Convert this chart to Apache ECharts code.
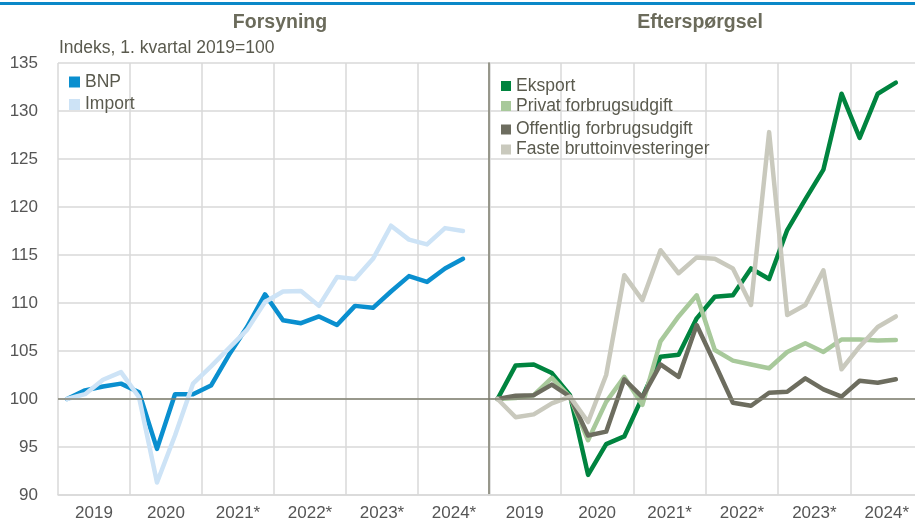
<!DOCTYPE html>
<html><head><meta charset="utf-8">
<script src="https://cdn.jsdelivr.net/npm/echarts@6/dist/echarts.min.js"></script>
<style>html,body{margin:0;padding:0;background:#fff}#c{width:915px;height:522px}</style>
</head><body><div id="c"></div>
<script>
const years = ['2019', '2020', '2021*', '2022*', '2023*', '2024*'];
const leftTitle = 'Forsyning';
const rightTitle = 'Efterspørgsel';
const unitLabel = 'Indeks, 1. kvartal 2019=100';

// quarterly, 2019 Q1 .. 2024 Q3
const bnp = [100, 100.9, 101.3, 101.6, 100.7, 94.8, 100.5, 100.5, 101.4, 104.6, 107.5, 110.9, 108.2, 107.9, 108.6, 107.7, 109.7, 109.5, 111.2, 112.8, 112.2, 113.6, 114.6];
const importData = [100, 100.5, 102.0, 102.8, 100.2, 91.3, 96.2, 101.6, 103.4, 105.3, 107.2, 110.1, 111.2, 111.25, 109.7, 112.7, 112.5, 114.6, 118.05, 116.6, 116.1, 117.8, 117.5];
const eksport = [100, 103.5, 103.6, 102.7, 100.4, 92.1, 95.3, 96.1, 100.2, 104.4, 104.6, 108.4, 110.65, 110.8, 113.6, 112.5, 117.6, 120.8, 123.9, 131.8, 127.2, 131.8, 132.95];
const privat = [100, 100.1, 100.4, 102.2, 100.2, 95.7, 99.7, 102.3, 99.4, 106.0, 108.6, 110.8, 105.1, 104.0, 103.6, 103.2, 104.9, 105.8, 104.9, 106.2, 106.2, 106.1, 106.15];
const offentlig = [100, 100.35, 100.4, 101.5, 100.25, 96.2, 96.6, 102.05, 100.2, 103.6, 102.3, 107.7, 103.7, 99.6, 99.3, 100.65, 100.75, 102.15, 101.0, 100.25, 101.9, 101.7, 102.05];
const faste = [100, 98.1, 98.4, 99.55, 100.25, 97.6, 102.5, 112.9, 110.3, 115.5, 113.1, 114.75, 114.6, 113.6, 109.8, 127.8, 108.75, 109.8, 113.4, 103.1, 105.45, 107.5, 108.6];

const FONT = '"Liberation Sans", Arial, sans-serif';
const GRID_C = '#d9d9d9';
const toXY = arr => arr.map((v, i) => [i + 0.5, v]);

function xAxes(gridIndex) {
  return [
    {type: 'value', gridIndex, min: 0, max: 24, interval: 4,
     axisLabel: {show: false}, axisTick: {show: false},
     axisLine: {show: true, lineStyle: {color: GRID_C, width: 1.5}},
     splitLine: {show: true, lineStyle: {color: GRID_C, width: 1.5}}},
    {type: 'value', gridIndex, min: 0, max: 24, interval: 2, position: 'bottom',
     axisLabel: {show: true, margin: 10, fontSize: 17, color: '#555555', fontFamily: FONT,
                 showMinLabel: true, showMaxLabel: true,
                 formatter: v => (v % 4 === 2) ? years[(v - 2) / 4] : ''},
     axisTick: {show: false}, axisLine: {show: false}, splitLine: {show: false}}
  ];
}

const refLine = {
  silent: true, symbol: 'none', label: {show: false},
  lineStyle: {color: '#7f7f6f', width: 1.5, type: 'solid'},
  data: [{yAxis: 100}]
};

function lineSeries(name, data, color, xi, yi, extra) {
  return Object.assign({
    name, type: 'line', xAxisIndex: xi, yAxisIndex: yi, data: toXY(data),
    showSymbol: false, symbol: 'none', animation: false,
    lineStyle: {color, width: 4.5, join: 'round', cap: 'round'},
    itemStyle: {color}
  }, extra || {});
}

const legendText = {fontSize: 17.5, color: '#5a5a4e', fontFamily: FONT, lineHeight: 18};

const option = {
  backgroundColor: '#ffffff',
  animation: false,
  grid: [
    {left: 58, width: 432, top: 63, height: 432, outerBoundsMode: 'none', containLabel: false},
    {left: 488.5, width: 434.5, top: 63, height: 432, outerBoundsMode: 'none', containLabel: false}
  ],
  xAxis: [].concat(xAxes(0), xAxes(1)),
  yAxis: [
    {type: 'value', gridIndex: 0, min: 90, max: 135, interval: 5,
     axisLabel: {margin: 20, fontSize: 17, color: '#555555', fontFamily: FONT},
     axisLine: {show: false}, axisTick: {show: false},
     splitLine: {show: true, lineStyle: {color: GRID_C, width: 1.5}}},
    {type: 'value', gridIndex: 1, min: 90, max: 135, interval: 5,
     axisLabel: {show: false},
     axisLine: {show: true, lineStyle: {color: '#7f7f6f', width: 1.5}}, axisTick: {show: false},
     splitLine: {show: true, lineStyle: {color: GRID_C, width: 1.5}}}
  ],
  legend: [
    {data: ['BNP', 'Import'], orient: 'vertical', left: 64, top: 68, icon: 'rect',
     itemWidth: 11, itemHeight: 11, itemGap: 4.5, textStyle: legendText, selectedMode: false},
    {data: ['Eksport', 'Privat forbrugsudgift'], orient: 'vertical', left: 496, top: 72, icon: 'rect',
     itemWidth: 10, itemHeight: 10, itemGap: 2, textStyle: legendText, selectedMode: false},
    {data: ['Offentlig forbrugsudgift', 'Faste bruttoinvesteringer'], orient: 'vertical', left: 496, top: 115.5, icon: 'rect',
     itemWidth: 10, itemHeight: 10, itemGap: 2, textStyle: legendText, selectedMode: false}
  ],
  graphic: [
    {type: 'rect', left: 0, top: 2, shape: {width: 915, height: 3}, style: {fill: '#0a88c8'}},
    {type: 'text', x: 280, y: 23, style: {text: leftTitle, font: 'bold 19.5px ' + FONT, fill: '#6b6b5b', align: 'center', verticalAlign: 'middle'}},
    {type: 'text', x: 700, y: 23, style: {text: rightTitle, font: 'bold 19.5px ' + FONT, fill: '#6b6b5b', align: 'center', verticalAlign: 'middle'}},
    {type: 'text', x: 59, y: 48, style: {text: unitLabel, font: '17.5px ' + FONT, fill: '#5a5a4e', align: 'left', verticalAlign: 'middle'}}
  ],
  series: [
    lineSeries('BNP', bnp, '#0a8fcf', 0, 0, {markLine: refLine}),
    lineSeries('Import', importData, '#cde3f6', 0, 0),
    lineSeries('Eksport', eksport, '#00843f', 2, 1, {markLine: refLine}),
    lineSeries('Privat forbrugsudgift', privat, '#a8c99b', 2, 1),
    lineSeries('Offentlig forbrugsudgift', offentlig, '#6d6d5f', 2, 1),
    lineSeries('Faste bruttoinvesteringer', faste, '#c9c9bd', 2, 1)
  ]
};

const chart = echarts.init(document.getElementById('c'), null, {renderer: 'canvas'});
chart.setOption(option);
</script>
</body></html>
